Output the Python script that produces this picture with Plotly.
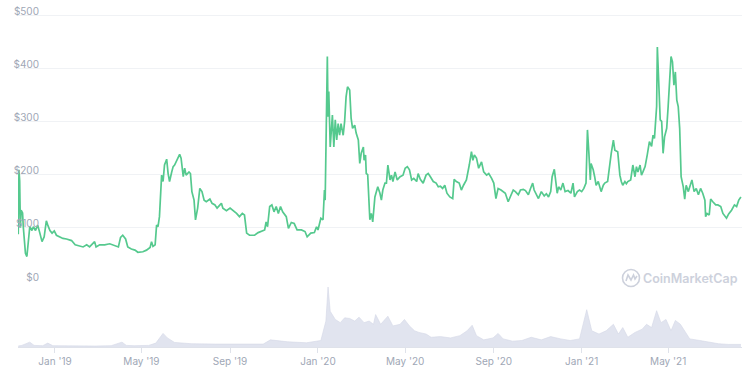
import plotly.graph_objects as go

# ---------------- data ----------------
price_dates = [
    "2018-11-11", "2018-11-12", "2018-11-13", "2018-11-14", "2018-11-15", "2018-11-17", "2018-11-18",
    "2018-11-19", "2018-11-21", "2018-11-23", "2018-11-25", "2018-11-27", "2018-11-30", "2018-12-02",
    "2018-12-05", "2018-12-08", "2018-12-11", "2018-12-14", "2018-12-17", "2018-12-20", "2018-12-22",
    "2018-12-25", "2018-12-28", "2018-12-31", "2019-01-03", "2019-01-08", "2019-01-12", "2019-01-17",
    "2019-01-24", "2019-01-29", "2019-02-05", "2019-02-09", "2019-02-14", "2019-02-18", "2019-02-25",
    "2019-02-27", "2019-03-04", "2019-03-11", "2019-03-18", "2019-03-25", "2019-03-30", "2019-04-02",
    "2019-04-05", "2019-04-09", "2019-04-12", "2019-04-17", "2019-04-22", "2019-04-26", "2019-05-03",
    "2019-05-08", "2019-05-13", "2019-05-15", "2019-05-17", "2019-05-20", "2019-05-22", "2019-05-24",
    "2019-05-26", "2019-05-29", "2019-05-31", "2019-06-02", "2019-06-05", "2019-06-07", "2019-06-09",
    "2019-06-12", "2019-06-14", "2019-06-16", "2019-06-18", "2019-06-21", "2019-06-23", "2019-06-25",
    "2019-06-28", "2019-06-30", "2019-07-02", "2019-07-06", "2019-07-08", "2019-07-10", "2019-07-13",
    "2019-07-15", "2019-07-18", "2019-07-21", "2019-07-24", "2019-07-27", "2019-07-30", "2019-08-04",
    "2019-08-07", "2019-08-11", "2019-08-14", "2019-08-18", "2019-08-20", "2019-08-22", "2019-08-27",
    "2019-09-01", "2019-09-05", "2019-09-10", "2019-09-14", "2019-09-18", "2019-09-21", "2019-09-24",
    "2019-09-28", "2019-10-05", "2019-10-10", "2019-10-14", "2019-10-19", "2019-10-21", "2019-10-23",
    "2019-10-26", "2019-10-29", "2019-11-01", "2019-11-04", "2019-11-07", "2019-11-10", "2019-11-13",
    "2019-11-18", "2019-11-21", "2019-11-25", "2019-11-29", "2019-12-03", "2019-12-09", "2019-12-14",
    "2019-12-17", "2019-12-22", "2019-12-27", "2019-12-30", "2020-01-01", "2020-01-05", "2020-01-08",
    "2020-01-10", "2020-01-11", "2020-01-13", "2020-01-14", "2020-01-15", "2020-01-16", "2020-01-18",
    "2020-01-21", "2020-01-23", "2020-01-25", "2020-01-27", "2020-01-29", "2020-01-31", "2020-02-02",
    "2020-02-05", "2020-02-07", "2020-02-09", "2020-02-11", "2020-02-14", "2020-02-16", "2020-02-18",
    "2020-02-21", "2020-02-23", "2020-02-26", "2020-02-28", "2020-03-01", "2020-03-04", "2020-03-05",
    "2020-03-07", "2020-03-08", "2020-03-10", "2020-03-13", "2020-03-15", "2020-03-17", "2020-03-20",
    "2020-03-22", "2020-03-24", "2020-03-27", "2020-03-29", "2020-03-31", "2020-04-03", "2020-04-05",
    "2020-04-07", "2020-04-10", "2020-04-12", "2020-04-14", "2020-04-17", "2020-04-20", "2020-04-24",
    "2020-04-28", "2020-05-01", "2020-05-04", "2020-05-07", "2020-05-10", "2020-05-13", "2020-05-17",
    "2020-05-19", "2020-05-22", "2020-05-26", "2020-05-30", "2020-06-02", "2020-06-05", "2020-06-09",
    "2020-06-13", "2020-06-16", "2020-06-19", "2020-06-22", "2020-06-25", "2020-06-28", "2020-07-02",
    "2020-07-06", "2020-07-08", "2020-07-11", "2020-07-15", "2020-07-18", "2020-07-21", "2020-07-25",
    "2020-07-29", "2020-08-01", "2020-08-03", "2020-08-05", "2020-08-08", "2020-08-11", "2020-08-15",
    "2020-08-18", "2020-08-22", "2020-08-25", "2020-08-29", "2020-09-01", "2020-09-04", "2020-09-07",
    "2020-09-11", "2020-09-14", "2020-09-17", "2020-09-21", "2020-09-25", "2020-09-28", "2020-10-01",
    "2020-10-05", "2020-10-08", "2020-10-12", "2020-10-15", "2020-10-19", "2020-10-22", "2020-10-25",
    "2020-10-27", "2020-10-30", "2020-11-02", "2020-11-06", "2020-11-10", "2020-11-13", "2020-11-16",
    "2020-11-19", "2020-11-21", "2020-11-24", "2020-11-26", "2020-11-28", "2020-11-30", "2020-12-03",
    "2020-12-06", "2020-12-09", "2020-12-13", "2020-12-17", "2020-12-20", "2020-12-22", "2020-12-26",
    "2020-12-29", "2021-01-01", "2021-01-04", "2021-01-07", "2021-01-09", "2021-01-11", "2021-01-13",
    "2021-01-14", "2021-01-17", "2021-01-19", "2021-01-21", "2021-01-24", "2021-01-26", "2021-01-28",
    "2021-01-31", "2021-02-02", "2021-02-06", "2021-02-09", "2021-02-11", "2021-02-14", "2021-02-16",
    "2021-02-20", "2021-02-23", "2021-02-25", "2021-02-27", "2021-03-02", "2021-03-04", "2021-03-06",
    "2021-03-10", "2021-03-13", "2021-03-16", "2021-03-18", "2021-03-20", "2021-03-23", "2021-03-25",
    "2021-03-27", "2021-03-30", "2021-04-02", "2021-04-03", "2021-04-05", "2021-04-08", "2021-04-10",
    "2021-04-12", "2021-04-15", "2021-04-16", "2021-04-18", "2021-04-20", "2021-04-22", "2021-04-24",
    "2021-04-26", "2021-04-29", "2021-05-01", "2021-05-03", "2021-05-05", "2021-05-07", "2021-05-09",
    "2021-05-11", "2021-05-13", "2021-05-15", "2021-05-16", "2021-05-17", "2021-05-19", "2021-05-22",
    "2021-05-24", "2021-05-26", "2021-05-29", "2021-05-31", "2021-06-03", "2021-06-06", "2021-06-09",
    "2021-06-12", "2021-06-15", "2021-06-18", "2021-06-21", "2021-06-22", "2021-06-24", "2021-06-27",
    "2021-06-29", "2021-07-02", "2021-07-06", "2021-07-09", "2021-07-13", "2021-07-16", "2021-07-21",
    "2021-07-24", "2021-07-28", "2021-08-01", "2021-08-04", "2021-08-07", "2021-08-10",
]
price_usd = [
    88, 209, 188, 100, 133, 128, 102,
    77, 52, 46, 71, 102, 95, 102,
    95, 105, 90, 74, 83, 113, 105,
    95, 90, 94, 86, 82, 80, 79,
    76, 68, 66, 64, 68, 64, 74,
    64, 68, 68, 70, 66, 64, 82,
    86, 79, 64, 60, 58, 54, 55,
    58, 63, 74, 65, 68, 105, 102,
    121, 199, 187, 218, 229, 202, 187,
    205, 215, 218, 224, 234, 238, 231,
    196, 212, 199, 205, 202, 168, 152,
    115, 137, 174, 168, 152, 149, 154,
    146, 143, 137, 143, 146, 137, 132,
    137, 133, 127, 121, 127, 124, 90,
    86, 86, 91, 93, 96, 111, 102,
    140, 143, 130, 140, 127, 140, 130,
    121, 99, 110, 108, 96, 96, 93,
    83, 90, 91, 102, 96, 118, 115,
    171, 152, 340, 422, 309, 356, 252,
    312, 252, 303, 265, 296, 274, 296,
    274, 300, 346, 365, 359, 306, 287,
    293, 278, 265, 221, 240, 252, 227,
    237, 202, 200, 115, 127, 111, 158,
    168, 177, 165, 152, 171, 184, 184,
    218, 190, 199, 187, 205, 190, 196,
    199, 212, 215, 209, 190, 193, 187,
    202, 191, 184, 199, 202, 196, 187,
    184, 177, 178, 174, 180, 165, 158,
    155, 191, 187, 184, 171, 180, 190,
    218, 243, 227, 237, 231, 212, 224,
    205, 199, 202, 193, 184, 155, 174,
    171, 168, 165, 149, 162, 171, 168,
    162, 171, 172, 170, 162, 174, 184,
    171, 164, 155, 168, 160, 164, 158,
    168, 196, 210, 187, 165, 177, 171,
    184, 168, 170, 165, 184, 158, 168,
    171, 168, 174, 184, 284, 240, 190,
    221, 209, 196, 180, 187, 177, 168,
    180, 184, 187, 224, 240, 265, 246,
    243, 199, 187, 180, 187, 183, 187,
    190, 218, 196, 215, 205, 218, 199,
    205, 215, 237, 249, 262, 253, 274,
    268, 328, 440, 371, 303, 300, 240,
    271, 287, 328, 368, 422, 412, 368,
    393, 340, 328, 303, 287, 196, 177,
    154, 180, 168, 177, 190, 168, 174,
    162, 174, 165, 152, 121, 127, 124,
    154, 149, 143, 143, 140, 127, 118,
    126, 133, 143, 140, 152, 158,
]

volume_dates = [
    "2018-11-11", "2018-11-16", "2018-11-27", "2018-12-03", "2018-12-15", "2018-12-22", "2018-12-29",
    "2019-01-24", "2019-02-26", "2019-03-20", "2019-04-04", "2019-04-10", "2019-04-21", "2019-05-11",
    "2019-05-21", "2019-05-31", "2019-06-06", "2019-06-16", "2019-07-10", "2019-08-12", "2019-09-14",
    "2019-10-17", "2019-10-27", "2019-11-20", "2019-12-16", "2020-01-05", "2020-01-12", "2020-01-15",
    "2020-01-18", "2020-01-25", "2020-02-01", "2020-02-07", "2020-02-14", "2020-02-21", "2020-02-27",
    "2020-03-05", "2020-03-12", "2020-03-18", "2020-03-21", "2020-03-28", "2020-04-07", "2020-04-14",
    "2020-04-24", "2020-04-30", "2020-05-07", "2020-05-14", "2020-05-20", "2020-05-30", "2020-06-06",
    "2020-06-19", "2020-07-03", "2020-07-16", "2020-07-26", "2020-08-02", "2020-08-08", "2020-08-18",
    "2020-08-31", "2020-09-07", "2020-09-14", "2020-09-27", "2020-10-10", "2020-10-23", "2020-11-06",
    "2020-11-19", "2020-12-03", "2020-12-16", "2020-12-29", "2021-01-08", "2021-01-15", "2021-01-25",
    "2021-02-04", "2021-02-14", "2021-02-21", "2021-02-27", "2021-03-06", "2021-03-16", "2021-03-26",
    "2021-04-01", "2021-04-08", "2021-04-15", "2021-04-21", "2021-04-28", "2021-05-05", "2021-05-11",
    "2021-05-18", "2021-05-25", "2021-05-31", "2021-06-14", "2021-06-27", "2021-07-10", "2021-07-24",
    "2021-08-06", "2021-08-10",
]
# 24h volume, in hundreds of millions USD (relative heights)
volume_usd_100m = [
    3, 5, 15, 5, 4, 12, 4,
    3, 3, 4, 15, 5, 4, 5,
    12, 42, 28, 14, 10, 9, 8,
    9, 22, 16, 13, 20, 80, 185,
    110, 85, 75, 90, 88, 80, 92,
    75, 80, 70, 100, 70, 95, 65,
    70, 85, 65, 50, 45, 40, 30,
    32, 28, 35, 50, 67, 35, 22,
    28, 42, 25, 18, 20, 30, 22,
    32, 25, 20, 25, 115, 50, 40,
    50, 70, 40, 60, 30, 45, 55,
    70, 60, 112, 75, 85, 50, 82,
    70, 45, 25, 20, 15, 10, 8,
    8, 8,
]

price_ticks = [0, 100, 200, 300, 400, 500]
price_tick_labels = ["$0", "$100", "$200", "$300", "$400", "$500"]
date_ticks = ["2019-01-01", "2019-05-01", "2019-09-01", "2020-01-01",
              "2020-05-01", "2020-09-01", "2021-01-01", "2021-05-01"]
date_tick_labels = ["Jan '19", "May '19", "Sep '19", "Jan '20",
                    "May '20", "Sep '20", "Jan '21", "May '21"]

# ---------------- figure ----------------
W, H = 752, 374
ML, MR, MT, MB = 18, 10, 5, 27
plot_h = H - MT - MB
split = (347 - 281) / plot_h  # bottom of price panel (fraction)

font_family = "Inter, 'Open Sans', sans-serif"
tick_color = "#a0a7b6"

fig = go.Figure()
fig.add_trace(go.Scatter(
    x=volume_dates, y=volume_usd_100m, xaxis="x", yaxis="y2",
    mode="lines", fill="tozeroy",
    line=dict(color="#d3d7e5", width=0.6),
    fillcolor="rgba(222,225,237,0.9)",
    hoverinfo="skip",
))
fig.add_trace(go.Scatter(
    x=price_dates, y=price_usd, xaxis="x", yaxis="y",
    mode="lines",
    line=dict(color="#55c98e", width=1.7),
))

fig.update_layout(
    width=W, height=H,
    margin=dict(l=ML, r=MR, t=MT, b=MB),
    paper_bgcolor="white", plot_bgcolor="white",
    showlegend=False,
    font=dict(family=font_family, size=10, color=tick_color),
    xaxis=dict(
        range=["2018-11-10 16:00", "2021-08-11 12:00"],
        anchor="y2",
        tickvals=date_ticks, ticktext=date_tick_labels,
        ticks="outside", ticklen=5, tickcolor="#dfe2ea", tickwidth=1,
        showline=True, linecolor="#dfe2ea", linewidth=1,
        showgrid=False, zeroline=False,
        tickfont=dict(family=font_family, size=10, color=tick_color),
    ),
    yaxis=dict(
        domain=[split, 1.0],
        range=[0, (plot_h * (1 - split)) / 0.532],
        anchor="x",
        tickvals=price_ticks, ticktext=price_tick_labels,
        showgrid=True, gridcolor="#f0f2f5", gridwidth=1,
        zeroline=False, showline=False, ticks="",
        ticklabelstandoff=-22, ticklabelshift=-4,
        automargin=False,
        tickfont=dict(family=font_family, size=10, color=tick_color),
    ),
    yaxis2=dict(
        domain=[0, split],
        range=[0, 185 * (plot_h * split) / 60],
        anchor="x",
        showgrid=False, zeroline=False, showline=False,
        showticklabels=False, ticks="",
    ),
)

# CoinMarketCap watermark
wm_y = (347 - 278) / plot_h
fig.add_annotation(
    x=(690 - ML) / (W - ML - MR), y=wm_y, xref="paper", yref="paper",
    text="CoinMarketCap", showarrow=False, xanchor="center", yanchor="middle",
    font=dict(family=font_family, size=12.5, color="#cdd1dc", weight=600),
)
fig.add_shape(
    type="circle", xref="paper", yref="paper",
    xsizemode="pixel", ysizemode="pixel",
    xanchor=(631 - ML) / (W - ML - MR), yanchor=wm_y,
    x0=-8.5, x1=8.5, y0=-8.5, y1=8.5,
    line=dict(color="#cdd1dc", width=1.6),
)
fig.add_shape(
    type="path", xref="paper", yref="paper",
    xsizemode="pixel", ysizemode="pixel",
    xanchor=(631 - ML) / (W - ML - MR), yanchor=wm_y,
    path="M -5,-3 L -3,3 L 0,-2 L 2.5,3 L 4,-1 L 6,2",
    line=dict(color="#cdd1dc", width=1.6),
)

fig.write_html("out.html")
